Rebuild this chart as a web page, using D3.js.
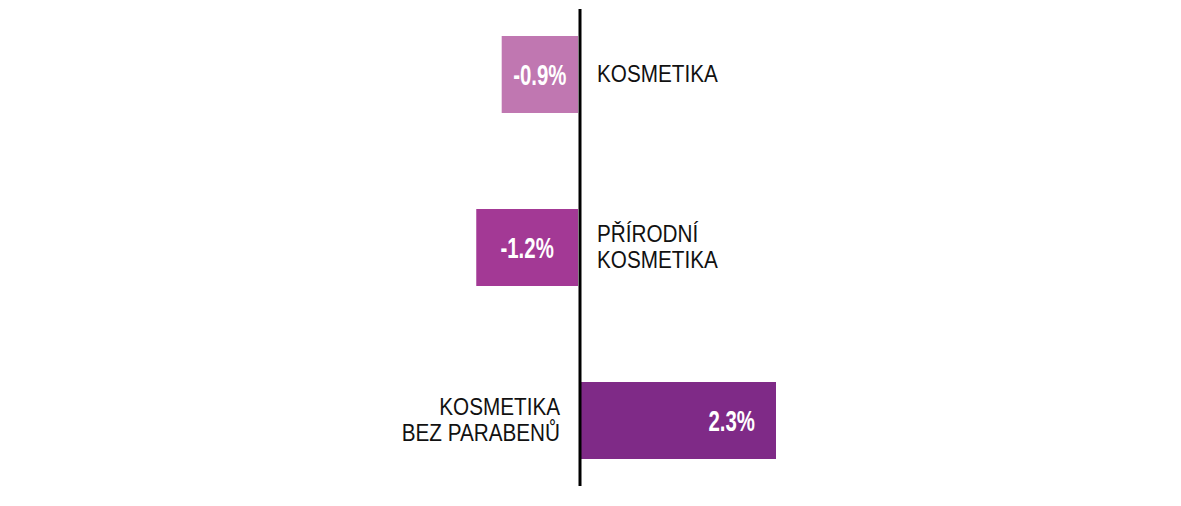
<!DOCTYPE html>
<html><head><meta charset="utf-8">
<script src="https://cdn.jsdelivr.net/npm/d3@7"></script>
<style>body{margin:0;background:#fff}</style></head>
<body><svg id="c" width="1181" height="506"></svg>
<script>
const categories = [["KOSMETIKA"], ["PŘÍRODNÍ", "KOSMETIKA"], ["KOSMETIKA", "BEZ PARABENŮ"]];
const values = [-0.9, -1.2, 2.3];
const labels = ["-0.9%", "-1.2%", "2.3%"];
const colors = ["#c077b1", "#a33995", "#7f2a87"];

const svg = d3.select("#c");
const x = d3.scaleLinear().domain([0, 2.3]).range([580, 775]);
const y = d3.scaleBand().domain(d3.range(values.length)).range([36, 459]).paddingInner(0.555).paddingOuter(0);
const font = "'Liberation Sans', Arial, sans-serif";
function sx(sel, ax, k) { return sel.attr("transform", `translate(${ax},0) scale(${k},1) translate(${-ax},0)`); }
values.forEach((v, i) => {
  const x0 = Math.min(x(0), x(v)), w = Math.abs(x(v) - x(0));
  const yb = y(i), h = y.bandwidth();
  svg.append("rect").attr("x", v < 0 ? x0 - 2 : x0 + 1).attr("y", yb).attr("width", w).attr("height", h).attr("fill", colors[i]);
  const tx = v < 0 ? x0 + w / 2 - 2 : x(v) - 20;
  sx(svg.append("text").attr("x", tx).attr("y", yb + h / 2 + 11)
    .attr("text-anchor", v < 0 ? "middle" : "end")
    .attr("font-family", font).attr("font-weight", "bold")
    .attr("font-size", 30).attr("fill", "#fff").text(labels[i]), tx, 0.68);
  const lines = categories[i];
  const lx = v < 0 ? 597 : 560;
  const cy = yb + h / 2;
  lines.forEach((t, j) => {
    sx(svg.append("text").attr("x", lx).attr("y", cy + 8 + (j - (lines.length - 1) / 2) * 26)
      .attr("text-anchor", v < 0 ? "start" : "end")
      .attr("font-family", font).attr("font-size", 23)
      .attr("fill", "#111").text(t), lx, 0.9);
  });
});
svg.append("line").attr("x1", 580).attr("x2", 580).attr("y1", 9).attr("y2", 486).attr("stroke", "#000").attr("stroke-width", 3);
</script></body></html>
